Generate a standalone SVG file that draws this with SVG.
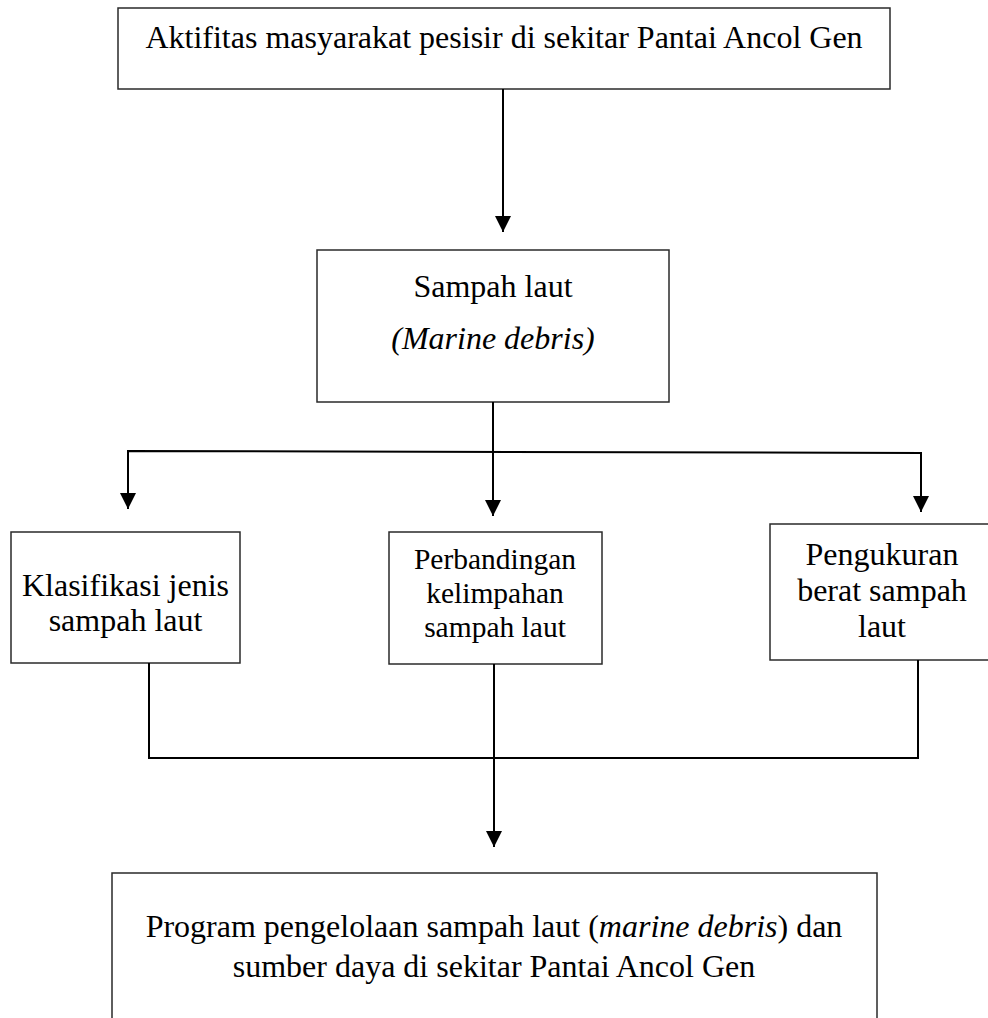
<svg xmlns="http://www.w3.org/2000/svg" width="988" height="1018" viewBox="0 0 988 1018">
<defs>
<style>
.box{fill:#fff;stroke:#2a2a2a;stroke-width:1.5}
.t{font-family:"Liberation Serif","Times New Roman",serif;font-size:32px;fill:#000;text-anchor:middle}
.s{font-size:29.5px}
.it{font-style:italic}
.c{fill:none;stroke:#000;stroke-width:2}
</style>
<marker id="ah" markerUnits="userSpaceOnUse" markerWidth="16" markerHeight="16" refX="16" refY="8" orient="auto">
<path d="M0,0 L16,8 L0,16 Z" fill="#000"/>
</marker>
</defs>
<rect width="988" height="1018" fill="#fff"/>
<g id="n-aktifitas">
<rect class="box" x="118" y="8" width="772" height="81"/>
<text class="t" x="504" y="48">Aktifitas masyarakat pesisir di sekitar Pantai Ancol Gen</text>
</g>
<g id="n-sampah">
<rect class="box" x="317" y="250" width="352" height="152"/>
<text class="t" x="493" y="297">Sampah laut</text>
<text class="t it" x="493" y="349">(Marine debris)</text>
</g>
<g id="n-klasifikasi">
<rect class="box" x="11" y="532" width="229" height="131"/>
<text class="t" x="125.5" y="596">Klasifikasi jenis</text>
<text class="t" x="125.5" y="631">sampah laut</text>
</g>
<g id="n-perbandingan">
<rect class="box" x="389" y="532" width="213" height="132"/>
<text class="t s" x="495" y="569">Perbandingan</text>
<text class="t s" x="495" y="603">kelimpahan</text>
<text class="t s" x="495" y="637">sampah laut</text>
</g>
<g id="n-pengukuran">
<rect class="box" x="770" y="524" width="225" height="136"/>
<text class="t" x="882" y="565">Pengukuran</text>
<text class="t" x="882" y="601">berat sampah</text>
<text class="t" x="882" y="637">laut</text>
</g>
<g id="n-program">
<rect class="box" x="112" y="873" width="765" height="160"/>
<text class="t" x="494" y="937">Program pengelolaan sampah laut (<tspan class="it">marine debris</tspan>) dan</text>
<text class="t" x="494" y="977">sumber daya di sekitar Pantai Ancol Gen</text>
</g>
<g id="connectors">
<line class="c" x1="503" y1="89" x2="503" y2="232" marker-end="url(#ah)"/>
<line class="c" x1="493" y1="402" x2="493" y2="516" marker-end="url(#ah)"/>
<polyline class="c" points="128,509 128,451 921,453 921,512" stroke-linejoin="miter"/>
<line class="c" x1="128" y1="460" x2="128" y2="509" marker-end="url(#ah)"/>
<line class="c" x1="921" y1="460" x2="921" y2="512" marker-end="url(#ah)"/>
<polyline class="c" points="149,663 149,758 918,758 918,660" stroke-width="1.6"/>
<line class="c" x1="494" y1="664" x2="494" y2="847" stroke-width="2.5" marker-end="url(#ah)"/>
</g>
</svg>
